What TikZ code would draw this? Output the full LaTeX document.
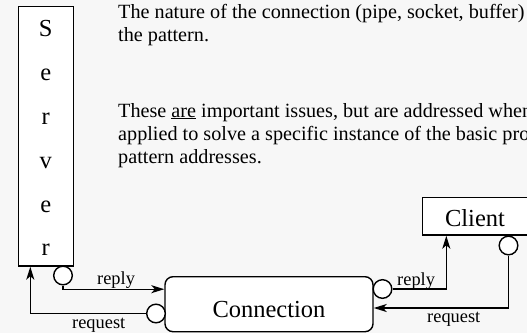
\documentclass[tikz,border=0pt]{standalone}
\usepackage{fontspec}
\setmainfont{Liberation Serif}
\usetikzlibrary{arrows.meta}
\definecolor{bg}{HTML}{F7F7F7}
\begin{document}
\begin{tikzpicture}[x=1pt,y=-1pt,
  box/.style={draw,line width=1.4pt,fill=white,inner sep=0pt},
  port/.style={circle,draw,line width=1.4pt,fill=white,minimum size=18.6pt,inner sep=0pt},
  conn/.style={line width=1.4pt,-{Stealth[length=13pt,width=8pt,inset=3.5pt]}},
  big/.style={font=\fontsize{24.5}{29}\selectfont},
  body/.style={font=\fontsize{20.2}{23}\selectfont,anchor=base west,inner sep=0pt},
  lbl/.style={font=\fontsize{18.4}{22}\selectfont,anchor=base west,inner sep=0pt}]
\fill[bg] (0,0) rectangle (527,333);
\useasboundingbox (0,0) rectangle (527,333);
\clip (0,0) rectangle (527,333);

% text
\node[body] (t1) at (118,18) {The nature of the connection (pipe, socket, buffer)};
\node[body] (t2) at (118,41) {the pattern.};
\node[body] (t3) at (118,117) {These \underline{are} important issues, but are addressed when};
\node[body] (t4) at (118,140) {applied to solve a specific instance of the basic problem};
\node[body] (t5) at (118,163) {pattern addresses.};

% server
\node[box,minimum width=55pt,minimum height=259.3pt] (server) at (45.8,136.35) {};
\foreach \ch/\yy [count=\i] in {S/36,e/80,r/124,v/168,e/212,r/255}
  \node[big,anchor=base,inner sep=0pt] (sl\i) at (45.8,\yy) {\ch};

% connection
\node[box,rounded corners=8pt,minimum width=208pt,minimum height=55pt,
      text height=26pt,text depth=0pt,big] (conn) at (269,304.2) {Connection};

% client
\node[box,minimum width=104.6pt,minimum height=37.7pt,
      text height=19.6pt,text depth=0pt,big] (client) at (475,216.2) {Client};

% ports
\node[port] (sc) at (63,275.5) {};
\node[port] (cl) at (156,313.5) {};
\node[port] (cr) at (382.5,289) {};
\node[port] (cc) at (508.5,245.5) {};

% connectors
\draw[conn] (sc.south) |- ([yshift=15pt]conn.west);
\draw[conn] (cl.west) -| ([xshift=12.7pt]server.south west);
\draw[conn] (cr.east) -| ([xshift=24.3pt]client.south west);
\draw[conn] (cc.south) |- ([yshift=-3.8pt]conn.east);

% labels
\node[lbl] (l1) at (97,284) {reply};
\node[lbl] (l2) at (72,328) {request};
\node[lbl] (l3) at (397,285) {reply};
\node[lbl] (l4) at (427,322) {request};
\end{tikzpicture}
\end{document}
